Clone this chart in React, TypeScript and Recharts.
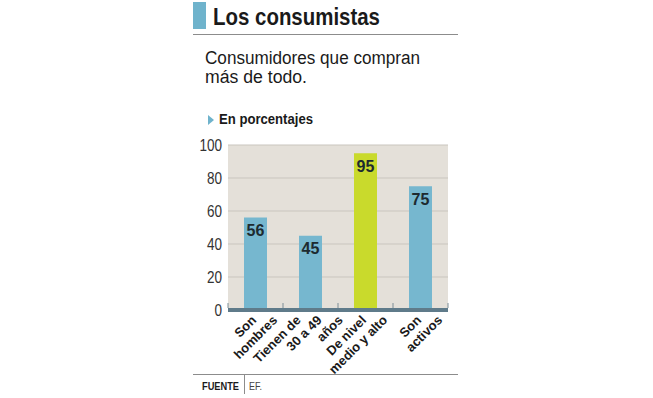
import { BarChart, Bar, XAxis, YAxis, CartesianGrid, Cell, LabelList } from 'recharts'

const categories = ['Son|hombres', 'Tienen de|30 a 49|años', 'De nivel|medio y alto', 'Son|activos']
const values = [56, 45, 95, 75]
const barColors = ['#76b7cf', '#76b7cf', '#c9da2c', '#76b7cf']
const yTicks = [0, 20, 40, 60, 80, 100]

const data = categories.map((name, i) => ({ name, value: values[i], color: barColors[i] }))

const SANS = "'Liberation Sans', Arial, sans-serif"

const BAND = 55

function CategoryTick (props: any) {
  const { x, y, payload, index } = props
  const lines: string[] = String(payload.value).split('|')
  const step = 21
  return (
    <g>
      <line x1={x - BAND / 2} x2={x - BAND / 2} y1={y - 7} y2={y - 2} stroke='#7d8e97' strokeWidth={1} />
      {index === categories.length - 1 && (
        <line x1={x + BAND / 2} x2={x + BAND / 2} y1={y - 7} y2={y - 2} stroke='#7d8e97' strokeWidth={1} />
      )}
      {lines.map((l, i) => {
        const ex = x + 12 + (i - (lines.length - 1) / 2) * step
        const ey = y + 11
        return (
          <text
            key={i}
            x={ex}
            y={ey}
            transform={`rotate(-45, ${ex}, ${ey})`}
            textAnchor='end'
            fontFamily={SANS}
            fontWeight='bold'
            fontSize={13}
            fill='#1a1a1a'
          >
            {l}
          </text>
        )
      })}
    </g>
  )
}

function ValueTick (props: any) {
  const { x, y, payload } = props
  return (
    <g transform={`translate(${x},${y}) scale(0.82,1)`}>
      <text x={0} y={0} dy='0.36em' textAnchor='end' fontFamily={SANS} fontSize={16.5} fill='#333'>
        {payload.value}
      </text>
    </g>
  )
}

export default function App () {
  return (
    <div style={{ position: 'absolute', left: 0, top: 0, width: 653, height: 398, background: '#fff' }}>
      <svg width={653} height={398} style={{ position: 'absolute', left: 0, top: 0 }}>
        <rect x={193} y={2} width={13} height={27} fill='#6fb3cc' />
        <text x={213} y={24.5} fontFamily={SANS} fontWeight='bold' fontSize={24} fill='#1a1a1a' textLength={167} lengthAdjust='spacingAndGlyphs'>
          Los consumistas
        </text>
        <line x1={193} x2={458} y1={34.5} y2={34.5} stroke='#8c8c8c' strokeWidth={1} />
        <text x={205} y={64} fontFamily={SANS} fontSize={18} fill='#1a1a1a' textLength={215} lengthAdjust='spacingAndGlyphs'>Consumidores que compran</text>
        <text x={205} y={83} fontFamily={SANS} fontSize={18} fill='#1a1a1a' textLength={102} lengthAdjust='spacingAndGlyphs'>más de todo.</text>
        <polygon points='208,115 214,120 208,125' fill='#6fb3cc' />
        <text x={219} y={124} fontFamily={SANS} fontWeight='bold' fontSize={14} fill='#1a1a1a' textLength={94} lengthAdjust='spacingAndGlyphs'>En porcentajes</text>
        <line x1={193} x2={458} y1={374.5} y2={374.5} stroke='#8c8c8c' strokeWidth={1} />
        <line x1={244.5} x2={244.5} y1={374.5} y2={394} stroke='#8c8c8c' strokeWidth={1} />
        <text x={202} y={389.5} fontFamily={SANS} fontWeight='bold' fontSize={11.5} fill='#1a1a1a' textLength={37} lengthAdjust='spacingAndGlyphs'>FUENTE</text>
        <text x={249} y={389.5} fontFamily={SANS} fontSize={11.5} fill='#444' textLength={13} lengthAdjust='spacingAndGlyphs'>EF.</text>
      </svg>
      <div style={{ position: 'absolute', left: 0, top: 0 }}>
        <BarChart
          width={653}
          height={398}
          data={data}
          margin={{ top: 145, right: 205, bottom: 0, left: 180 }}
        >
          <CartesianGrid vertical={false} fill='#e4e0d9' stroke='#c9c5be' />
          <YAxis
            width={48}
            domain={[0, 100]}
            ticks={yTicks}
            axisLine={false}
            tickLine={false}
            tickSize={0}
            tickMargin={6}
            tick={<ValueTick />}
          />
          <XAxis
            dataKey='name'
            height={88}
            axisLine={{ stroke: '#5f7b8a', strokeWidth: 4 }}
            tickLine={false}
            tickSize={0}
            tickMargin={0}
            interval={0}
            tick={<CategoryTick />}
          />
          <Bar dataKey='value' barSize={23} isAnimationActive={false}>
            {data.map((d, i) => (
              <Cell key={i} fill={d.color} />
            ))}
            <LabelList
              dataKey='value'
              position='insideTop'
              offset={7}
              fontFamily={SANS}
              fontWeight='bold'
              fontSize={16}
              fill='#1d2a30'
            />
          </Bar>
        </BarChart>
      </div>
    </div>
  )
}
